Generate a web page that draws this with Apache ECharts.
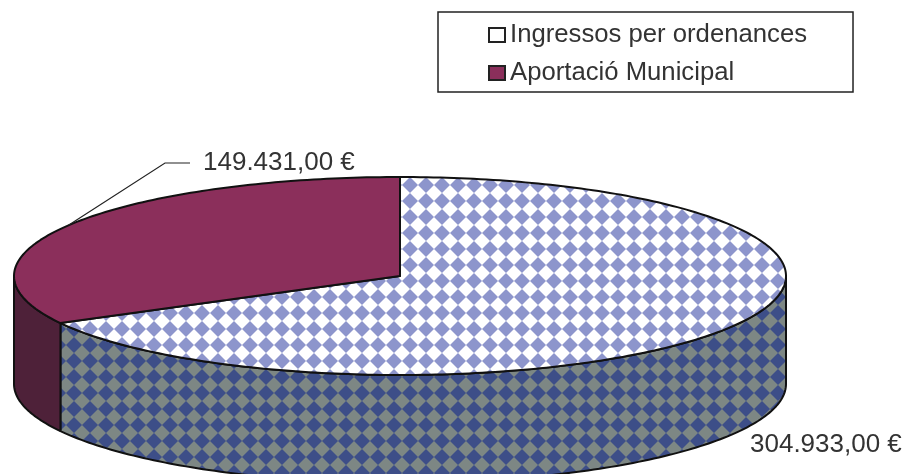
<!DOCTYPE html>
<html>
<head>
<meta charset="utf-8">
<style>
html, body { margin: 0; padding: 0; background: #fff; overflow: hidden; }
#chart { width: 905px; height: 474px; }
</style>
<script src="https://cdn.jsdelivr.net/npm/echarts@6/dist/echarts.min.js"></script>
</head>
<body>
<div id="chart"></div>
<script>
var categories = ['Ingressos per ordenances', 'Aportació Municipal'];
var values = [304933, 149431];
var valueLabels = ['304.933,00 €', '149.431,00 €'];

var total = values[0] + values[1];
var depth = 108 / 99; // wall height in axis units (the ellipse is 2 units tall)
var fontName = '"Liberation Sans", Arial, sans-serif';

// checker of diamonds, tile anchored to the page origin
function diamondTile(bg, fg) {
    var p = 16, c = document.createElement('canvas');
    c.width = p;
    c.height = p;
    var g = c.getContext('2d');
    g.fillStyle = bg;
    g.fillRect(0, 0, p, p);
    g.fillStyle = fg;
    var r = 8;
    for (var i = -1; i <= 1; i++) {
        for (var j = -1; j <= 1; j++) {
            var cx = 10 + i * p, cy = 9 + j * p;
            g.beginPath();
            g.moveTo(cx, cy - r);
            g.lineTo(cx + r, cy);
            g.lineTo(cx, cy + r);
            g.lineTo(cx - r, cy);
            g.closePath();
            g.fill();
        }
    }
    return { image: c, repeat: 'repeat' };
}

var styles = [
    { top: diamondTile('#ffffff', '#8d95cc'), wall: diamondTile('#7d8784', '#3d4e88') },
    { top: '#8b2f5b', wall: '#4e2139' }
];

// slice index -> angles in degrees, clockwise from 12 o'clock
function sliceAngles(idx) {
    var start = 0;
    for (var i = 0; i < idx; i++) start += values[i] / total * 360;
    return [start, start + values[idx] / total * 360];
}

function rimPoint(api, deg, drop) {
    var a = deg * Math.PI / 180;
    return api.coord([Math.sin(a), Math.cos(a) - drop]);
}

function arcPoints(api, from, to, drop) {
    var pts = [], n = Math.max(2, Math.ceil(Math.abs(to - from)));
    for (var i = 0; i <= n; i++) pts.push(rimPoint(api, from + (to - from) * i / n, drop));
    return pts;
}

function renderSlice(idx) {
    return function(params, api) {
        var ang = sliceAngles(idx);
        var children = [];
        var edge = '#111', edgeWidth = 2;

        // front wall, only the part between 90 and 270 degrees faces us
        var w0 = Math.max(ang[0], 90), w1 = Math.min(ang[1], 270);
        if (w1 > w0) {
            var wall = arcPoints(api, w0, w1, 0).concat(arcPoints(api, w1, w0, depth));
            children.push({
                type: 'polygon',
                shape: { points: wall },
                style: { fill: styles[idx].wall, stroke: edge, lineWidth: edgeWidth, lineJoin: 'round' }
            });
        }

        // top face
        var top = [api.coord([0, 0])].concat(arcPoints(api, ang[0], ang[1], 0));
        children.push({
            type: 'polygon',
            shape: { points: top },
            style: { fill: styles[idx].top, stroke: edge, lineWidth: edgeWidth, lineJoin: 'round' }
        });

        // value label, with leader line for the small slice
        if (idx === 1) {
            var mid = rimPoint(api, (ang[0] + ang[1]) / 2, 0);
            children.push({
                type: 'polyline',
                shape: { points: [mid, [165, 163], [190, 163]] },
                style: { fill: 'none', stroke: '#222', lineWidth: 1.2 }
            });
        }
        children.push({
            type: 'text',
            style: {
                text: valueLabels[idx],
                x: idx === 1 ? 203 : 750,
                y: idx === 1 ? 163 : 445,
                fill: '#333',
                font: '26px ' + fontName,
                textAlign: 'left',
                textVerticalAlign: 'middle'
            }
        });
        return { type: 'group', children: children };
    };
}

var chart = echarts.init(document.getElementById('chart'), null, { renderer: 'canvas' });

chart.setOption({
    animation: false,
    backgroundColor: '#ffffff',
    grid: { left: 14, top: 177, width: 772, height: 198, containLabel: false },
    xAxis: { type: 'value', min: -1, max: 1, show: false },
    yAxis: { type: 'value', min: -1, max: 1, show: false },
    legend: {
        orient: 'vertical',
        left: 438,
        top: 12,
        padding: [10, 46, 6, 50],
        itemGap: 12,
        itemWidth: 16,
        itemHeight: 14,
        itemStyle: { borderColor: '#222', borderWidth: 2 },
        borderColor: '#222',
        borderWidth: 1.5,
        backgroundColor: '#fff',
        textStyle: { fontFamily: fontName, fontSize: 25.7, color: '#333', padding: [0, 0, 0, 0] },
        data: [
            { name: categories[0], icon: 'rect', itemStyle: { color: '#ffffff' } },
            { name: categories[1], icon: 'rect', itemStyle: { color: '#8b2f5b' } }
        ]
    },
    series: [0, 1].map(function(idx) {
        return {
            type: 'custom',
            name: categories[idx],
            coordinateSystem: 'cartesian2d',
            clip: false,
            silent: true,
            itemStyle: { color: idx === 0 ? '#ffffff' : '#8b2f5b' },
            data: [[0, values[idx]]],
            renderItem: renderSlice(idx)
        };
    })
});
</script>
</body>
</html>
